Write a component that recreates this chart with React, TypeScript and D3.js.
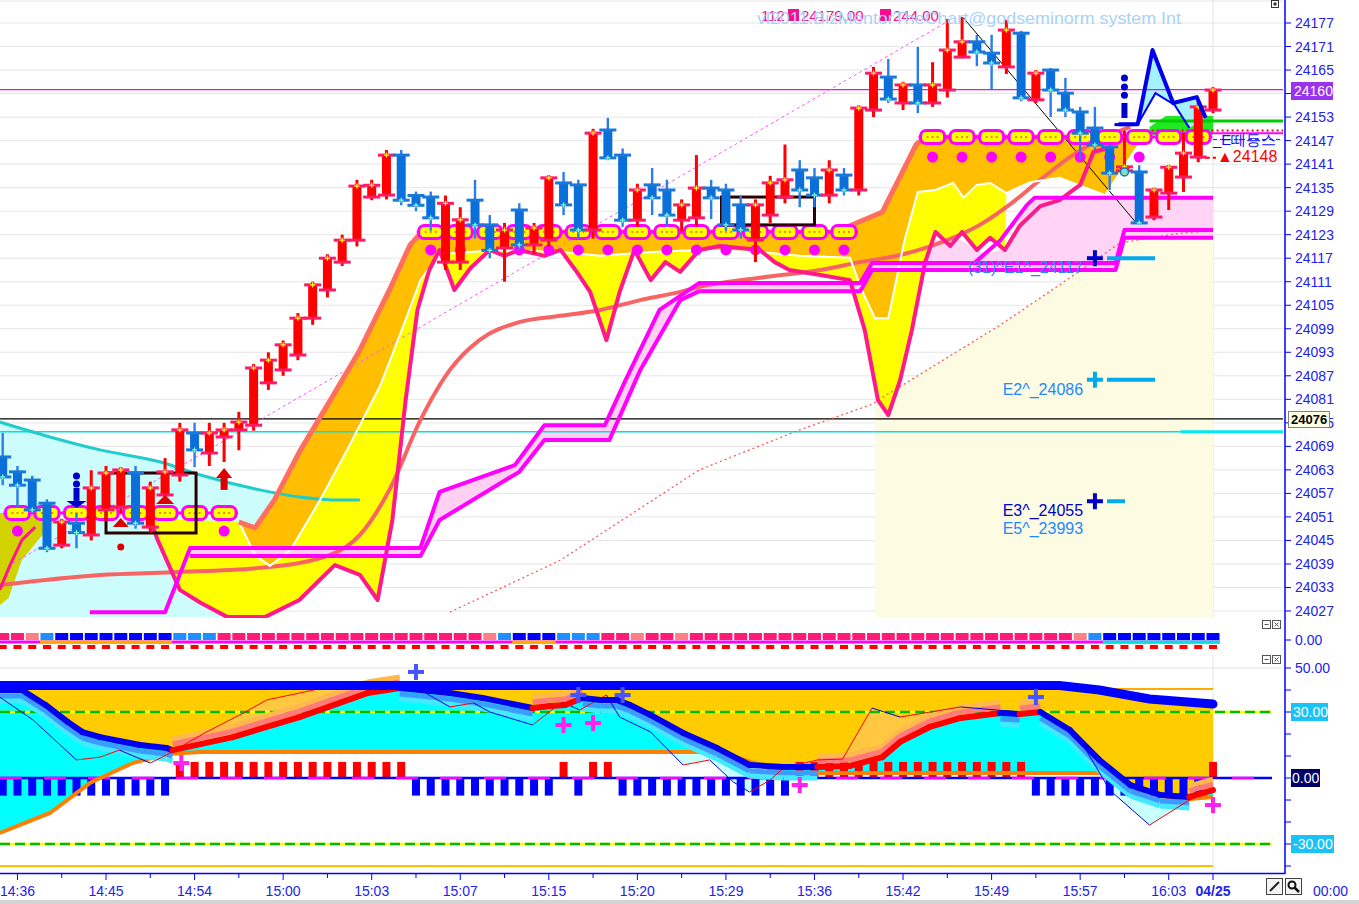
import React from "react";
import * as d3 from "d3";

type P = [number, number];

// ---------------- categories / ticks ----------------
const timeLabelIdx = [1, 7, 13, 19, 25, 31, 37, 43, 49, 55, 61, 67, 73, 79];
const timeLabels = ["14:36", "14:45", "14:54", "15:00", "15:03", "15:07", "15:15", "15:20", "15:29", "15:36", "15:42", "15:49", "15:57", "16:03"];
const dateLabel = "04/25";
const priceTicks = [24027, 24033, 24039, 24045, 24051, 24057, 24063, 24069, 24075, 24081, 24087, 24093, 24099, 24105, 24111, 24117, 24123, 24129, 24135, 24141, 24147, 24153, 24159, 24165, 24171, 24177];
const oscTicks = [50, 40, 30, 20, 10, 0, -10, -20, -30, -40];

// ---------------- candles ----------------
const opens = [24066.3, 24062.5, 24060.4, 24054.5, 24043.8, 24049.4, 24046.4, 24052.8, 24053.5, 24062.2, 24048.4, 24056.6, 24061.7, 24072.4, 24067.3, 24071.4, 24073.2, 24074.4, 24085.2, 24088.5, 24092.3, 24101.7, 24108.9, 24116.0, 24121.6, 24132.6, 24133.1, 24143.3, 24133.0, 24132.6, 24116.0, 24116.0, 24131.8, 24125.5, 24119.6, 24129.3, 24120.4, 24121.6, 24136.2, 24135.7, 24124.2, 24149.7, 24143.3, 24126.7, 24135.7, 24134.4, 24126.7, 24127.3, 24134.9, 24134.4, 24130.6, 24121.6, 24128.0, 24132.6, 24139.5, 24137.5, 24133.1, 24138.2, 24134.4, 24154.8, 24163.2, 24156.6, 24161.2, 24156.6, 24159.9, 24168.3, 24172.2, 24169.3, 24165.8, 24174.4, 24157.4, 24165.0, 24159.1, 24154.3, 24150.2, 24145.4, 24139.3, 24139.0, 24127.5, 24133.6, 24137.7, 24142.8, 24154.8];
const highs = [24072.4, 24064.0, 24061.5, 24055.5, 24050.5, 24052.0, 24062.9, 24064.0, 24063.7, 24064.0, 24060.0, 24066.0, 24075.0, 24075.0, 24075.0, 24075.0, 24077.8, 24090.0, 24093.0, 24096.0, 24103.0, 24111.0, 24118.0, 24123.0, 24137.0, 24137.0, 24144.6, 24144.6, 24134.0, 24134.0, 24133.0, 24130.0, 24137.0, 24128.0, 24126.0, 24131.0, 24126.0, 24138.2, 24139.0, 24137.0, 24150.0, 24152.8, 24145.0, 24136.0, 24140.0, 24137.0, 24132.0, 24143.3, 24137.0, 24136.0, 24133.0, 24132.0, 24138.0, 24146.0, 24142.0, 24140.0, 24142.0, 24140.0, 24156.0, 24165.8, 24167.8, 24162.0, 24170.9, 24167.0, 24178.0, 24178.5, 24174.0, 24174.0, 24177.8, 24175.0, 24165.0, 24165.5, 24163.0, 24155.6, 24155.6, 24146.0, 24149.5, 24140.7, 24135.0, 24140.8, 24149.0, 24157.0, 24160.7];
const lows = [24059.1, 24053.3, 24052.0, 24042.0, 24043.0, 24043.0, 24045.0, 24050.0, 24052.0, 24048.0, 24047.0, 24055.0, 24060.0, 24063.7, 24064.0, 24065.0, 24068.0, 24073.0, 24083.4, 24087.0, 24091.0, 24100.0, 24107.0, 24115.0, 24120.0, 24131.8, 24132.0, 24130.5, 24129.0, 24124.0, 24114.0, 24114.0, 24122.0, 24117.0, 24111.0, 24119.0, 24118.0, 24120.0, 24128.0, 24122.0, 24122.0, 24142.0, 24125.0, 24125.0, 24128.0, 24125.0, 24124.0, 24125.0, 24127.0, 24124.0, 24122.0, 24116.0, 24126.0, 24131.0, 24130.0, 24130.0, 24131.0, 24133.0, 24133.0, 24153.0, 24156.6, 24154.8, 24154.0, 24155.6, 24158.0, 24168.0, 24166.0, 24160.0, 24164.0, 24157.0, 24156.6, 24153.0, 24153.0, 24142.0, 24144.6, 24134.4, 24138.0, 24125.5, 24126.7, 24129.3, 24133.9, 24141.5, 24154.0];
const closes = [24061.2, 24059.1, 24052.8, 24043.0, 24049.7, 24047.0, 24058.4, 24062.2, 24063.0, 24049.4, 24058.4, 24062.5, 24073.2, 24068.1, 24072.4, 24073.2, 24075.2, 24089.0, 24091.0, 24094.9, 24101.7, 24110.2, 24117.0, 24121.6, 24135.4, 24135.6, 24143.3, 24131.8, 24130.5, 24127.3, 24131.0, 24126.8, 24125.5, 24119.0, 24124.2, 24120.4, 24124.7, 24137.5, 24130.6, 24124.2, 24148.9, 24142.6, 24126.7, 24134.4, 24132.4, 24128.0, 24130.6, 24134.9, 24132.4, 24125.5, 24124.2, 24130.6, 24136.2, 24137.0, 24134.4, 24133.1, 24139.5, 24134.4, 24155.3, 24164.2, 24157.6, 24161.2, 24156.6, 24161.2, 24170.1, 24172.2, 24169.6, 24166.8, 24175.2, 24157.9, 24164.2, 24159.9, 24154.8, 24148.9, 24145.9, 24138.7, 24140.3, 24126.0, 24134.4, 24140.2, 24143.8, 24155.6, 24159.9];

// ---------------- overlay series [index, price] ----------------
const maLine: P[] = [[-0.2, 24033.6], [6.6, 24036.2], [11.5, 24036.9], [17.4, 24038.0], [22.2, 24041.3], [24.2, 24046.4], [26.2, 24057.9], [28.3, 24075.7], [30.3, 24088.5], [32.3, 24096.1], [35.0, 24100.7], [37.8, 24102.3], [40.5, 24103.8], [43.2, 24106.3], [45.9, 24108.4], [47.2, 24109.7], [51.3, 24112.0], [55.4, 24114.0], [58.1, 24116.0], [60.8, 24117.8], [63.5, 24120.9], [66.2, 24125.5], [68.2, 24130.6], [70.3, 24137.0], [72.5, 24143.3], [74.3, 24147.2], [76.4, 24150.5]];
const cyanLine: P[] = [[-0.2, 24075.2], [3.2, 24071.4], [6.6, 24068.1], [10.7, 24065.0], [13.4, 24061.7], [17.4, 24057.9], [20.1, 24056.1], [22.9, 24055.3], [24.2, 24055.3]];
const spanTop: P[] = [[16.0, 24049.7], [17.1, 24048.2], [18.4, 24055.3], [20.1, 24067.6], [22.2, 24080.8], [24.2, 24093.6], [26.2, 24108.9], [27.6, 24120.4], [28.4, 24123.7], [56.4, 24123.7], [59.6, 24128.8], [61.9, 24146.1], [62.6, 24147.9], [77.3, 24147.9]];
const spanMid: P[] = [[16.0, 24049.7], [17.1, 24041.3], [18.1, 24038.5], [19.5, 24042.6], [21.5, 24055.3], [23.5, 24069.3], [25.6, 24084.7], [26.9, 24097.4], [28.3, 24111.4], [29.6, 24118.1], [33.7, 24119.1], [37.8, 24118.6], [40.5, 24117.6], [43.9, 24118.6], [47.2, 24119.1], [51.3, 24118.6], [54.0, 24117.6], [57.4, 24117.1], [58.2, 24108.9], [59.1, 24101.7], [60.0, 24101.7], [61.1, 24121.6], [62.0, 24133.9], [63.2, 24134.4], [64.4, 24136.2], [65.1, 24132.4], [66.0, 24135.7], [66.9, 24136.2], [68.0, 24133.6], [69.6, 24136.4], [71.6, 24137.5], [74.7, 24133.1], [77.3, 24147.9]];
const yellowStart: P = [10.0, 24050.7];
const spanBot: P[] = [[10.0, 24050.2], [10.5, 24045.1], [12.0, 24032.4], [13.4, 24029.1], [15.2, 24025.5], [17.8, 24025.5], [20.1, 24029.8], [22.5, 24038.7], [24.2, 24036.2], [25.4, 24029.8], [26.4, 24050.2], [27.3, 24080.8], [28.1, 24103.8], [28.9, 24114.0], [29.6, 24119.1], [30.6, 24108.9], [31.7, 24114.5], [33.0, 24119.1], [34.0, 24117.6], [35.0, 24119.1], [36.7, 24117.6], [37.8, 24119.1], [38.8, 24114.0], [39.8, 24108.4], [40.9, 24096.1], [41.8, 24108.4], [42.8, 24119.1], [43.9, 24111.4], [44.9, 24116.0], [45.9, 24113.5], [47.2, 24119.1], [48.6, 24120.1], [51.3, 24119.1], [52.3, 24116.0], [53.3, 24114.0], [55.4, 24112.7], [57.4, 24111.4], [58.4, 24098.7], [59.3, 24080.8], [60.0, 24077.0], [60.8, 24085.9], [61.6, 24098.7], [62.5, 24116.0], [63.2, 24123.7], [64.2, 24120.1], [65.0, 24123.7], [66.0, 24119.1], [66.9, 24122.2], [67.9, 24119.1], [68.9, 24125.2], [70.3, 24130.3], [71.6, 24131.8], [73.0, 24135.7], [73.9, 24144.1], [74.9, 24145.1]];
const magTop: P[] = [[5.9, 24026.7], [11.0, 24026.7], [12.7, 24043.1], [28.3, 24043.1], [29.6, 24057.4], [34.7, 24064.2], [36.7, 24074.4], [40.8, 24074.4], [42.2, 24085.9], [44.5, 24103.8], [47.2, 24110.7], [58.1, 24110.7], [58.9, 24115.8], [75.4, 24115.8], [76.0, 24124.2], [82.0, 24124.2]];
const magBot: P[] = [[12.7, 24041.0], [28.3, 24041.0], [29.6, 24050.2], [35.0, 24062.5], [36.7, 24070.6], [41.1, 24070.6], [43.2, 24088.5], [45.9, 24106.3], [47.2, 24108.6], [58.1, 24108.6], [58.9, 24114.0], [75.4, 24114.0], [76.0, 24122.2], [82.0, 24122.2]];
const magRight: P[] = [[65.9, 24116.0], [67.6, 24121.6], [69.4, 24130.6], [69.9, 24132.4], [82.0, 24132.4]];
const pinkRight: P[] = [[62.5, 24115.8], [63.2, 24121.6], [64.9, 24121.6], [66.6, 24117.8], [67.9, 24119.6], [69.4, 24130.6], [69.9, 24132.4], [82.0, 24132.4], [82.0, 24124.2], [76.0, 24124.2], [75.4, 24115.8]];
const olivePoly: P[] = [[-0.2, 24052.0], [3.9, 24052.0], [1.3, 24040.0], [0.4, 24030.3], [-0.2, 24028.5]];
const leftPink: P[] = [[-0.2, 24032.4], [0.5, 24038.7], [1.3, 24045.1], [2.2, 24048.4]];
const cyanStrip: P[] = [[17.4, 24057.9], [20.1, 24056.1], [22.9, 24055.3], [22.9, 24051.5], [20.1, 24050.5], [17.4, 24048.2]];
const trendDots: P[] = [[30.3, 24026.7], [37.8, 24040.0], [47.2, 24063.0], [54.0, 24073.2], [58.8, 24079.6], [63.5, 24090.5], [67.6, 24100.0], [71.6, 24110.2], [75.7, 24120.9], [79.8, 24123.4], [82.0, 24124.0]];
const diagDash: P[] = [[0.7, 24039.2], [64.2, 24177.8]];
const diagBlack: P[] = [[65.1, 24178.3], [76.8, 24126.0]];
const spikeOuter: P[] = [[75.6, 24151.2], [76.9, 24151.2], [77.9, 24170.1], [79.3, 24156.6], [80.9, 24158.1], [81.5, 24152.8]];
const spikeInner: P[] = [[76.9, 24151.2], [78.1, 24159.1], [79.4, 24156.1], [80.4, 24150.2]];
const greenBox: P[] = [[77.7, 24150.5], [78.8, 24153.3], [82.0, 24153.3], [82.0, 24148.4], [77.7, 24148.4]];
const chains = [
  { level: 24052.0, dot: 24047.4, idx: [1, 3, 5, 7, 9, 11, 13, 15], dots: [1, 15] },
  { level: 24123.7, dot: 24119.1, idx: [29, 31, 33, 35, 37, 39, 41, 43, 45, 47, 49, 51, 53, 55, 57], dots: [29, 31, 35, 37, 39, 41, 43, 45, 47, 49, 51, 53, 55, 57] },
  { level: 24147.9, dot: 24142.8, idx: [63, 65, 67, 69, 71, 73, 75, 77, 79, 81], dots: [63, 65, 67, 69, 71, 73, 75, 77] },
];
const boxes = [
  { i0: 7.0, i1: 13.1, p0: 24062.2, p1: 24046.9 },
  { i0: 48.7, i1: 55.0, p0: 24132.6, p1: 24125.5 },
];
const eLevels = [
  { text: "(31)^E1^_24117", level: 24117, color: "#1e88ff", plus: "#0000cc", dash: 1155 },
  { text: "E2^_24086", level: 24086, color: "#1e88ff", plus: "#00aaee", dash: 1155 },
  { text: "E3^_24055", level: 24055, color: "#0000cc", plus: "#0000cc", dash: 1125 },
];
const e5Text = "E5^_23993";
const hLines = { magenta: 24160, black: 24076, cyan: 24072.7, green: 24152.0 };

// ---------------- strip panel ----------------
const stripCodes = "PPSMBBBBBBBBMMMPPPPPPPPPPPPPPPPPPSMBBBMMMPPSPPSPPPPPPPPPPPPPPPPPPPPPPPPPPSMBBBBBBBB".split("");
const stripOrange = [[3, 11], [35, 37]];
const stripCyan = [[75, 82]];

// ---------------- oscillator ----------------
const hist = [
  -8, -8, -8, -8, -8, -8, -8, -8, -8, -8, -8, -8,
  7.3, 7.3, 7.3, 7.3, 7.3, 7.3, 7.3, 7.3, 7.3, 7.3, 7.3, 7.3, 7.3, 7.3, 7.3, 7.3,
  -8, -8, -8, -8, -8, -8, -8, -8, -8, -8,
  7.3, -8, 7.3, 7.3,
  -8, -8, -8, -8, -8, -8, -8, -8, -8, -8, -8, -8,
  7.3, 7.3, 7.3, 7.3, 7.3, 7.3, 7.3, 7.3, 7.3, 7.3, 7.3, 7.3, 7.3, 7.3, 7.3, 7.3,
  -8, -8, -8, -8, -8, -8, -8, -8, -8, -8, -8, -8,
  7.3,
];
const oscBand: P[] = [[-0.2, 42], [71.6, 42], [74.3, 40], [77.7, 35.9], [82, 33.6]];
const oscFast: P[] = [[-0.2, 40.0], [1.3, 40.0], [2.9, 33.2], [4.4, 25.5], [5.4, 20.9], [6.6, 18.6], [7.9, 16.8], [9.3, 15.0], [11.1, 13.6], [11.5, 12.7], [15.6, 18.6], [20.1, 27.7], [24.7, 38.6], [26.9, 40.9], [28.3, 40.0], [30.3, 38.6], [32.5, 36.4], [35.9, 31.8], [37.1, 32.7], [38.1, 33.2], [39.3, 36.4], [40.5, 35.5], [41.6, 35.5], [42.5, 33.2], [43.9, 28.6], [46.1, 20.5], [48.4, 13.6], [50.6, 5.9], [52.9, 5.0], [55.2, 5.0], [57.4, 5.5], [59.6, 9.5], [60.8, 16.4], [62.8, 23.2], [64.9, 27.3], [67.6, 29.5], [68.9, 29.1], [70.3, 30.0], [72.3, 21.8], [74.3, 8.2], [76.4, -3.2], [78.4, -7.7], [80.4, -8.6], [82, -5.5]];
const oscSlow: P[] = [[-0.2, -25.0], [3.2, -15.9], [5.9, -2.3], [8.8, 6.8], [11.1, 10.9], [13.4, 11.8], [48.6, 11.8], [51.3, 5.9], [52.9, 2.3], [74.3, 2.3], [77.1, -5.5], [79.7, -10.0], [82, -8.6]];
const oscMom: P[] = [[-0.2, 36.8], [2.05, 26.4], [5.0, 8.2], [6.6, 9.5], [7.9, 12.7], [10.0, 6.8], [11.1, 10.5], [13.8, 20.9], [16.3, 29.5], [17.9, 35.5], [20.1, 38.6], [23.5, 43.6], [26.9, 43.2], [28.3, 40.0], [30.3, 32.3], [31.9, 34.1], [33.0, 30.0], [35.9, 24.1], [37.9, 34.5], [39.1, 30.9], [40.9, 37.7], [41.8, 27.7], [43.9, 20.9], [46.1, 5.9], [47.9, 8.2], [49.5, -1.8], [50.6, -6.4], [52.0, -0.9], [52.9, 4.5], [55.2, 8.2], [56.9, 8.6], [58.9, 31.8], [60.8, 27.7], [64.9, 32.3], [68.9, 30.0], [70.9, 28.2], [73.0, 17.3], [75.0, -5.5], [77.7, -21.4], [80.4, -10.0], [82, -5.5]];
const oscTopLine: P[] = [[70.3, 40.5], [82, 40.5]];
const oscBottomLine = -40;
const oscPlusBlue: P[] = [[28.0, 48.2], [39.0, 37.7], [42.0, 37.7], [70.0, 36.8]];
const oscPlusMag: P[] = [[12.1, 6.8], [38.0, 24.1], [40.0, 25.0], [54.0, -3.2], [82, -12.3]];

const FONT = "'Liberation Sans', Arial, sans-serif";
const AXIS_BLUE = "#2222ee";

function interp(pts: P[], t: number): number {
  if (t <= pts[0][0]) return pts[0][1];
  for (let k = 1; k < pts.length; k++) {
    if (t <= pts[k][0]) {
      const [x0, y0] = pts[k - 1];
      const [x1, y1] = pts[k];
      return y0 + ((y1 - y0) * (t - x0)) / (x1 - x0 || 1);
    }
  }
  return pts[pts.length - 1][1];
}

function Plus({ cx, cy, s, t, color }: { cx: number; cy: number; s: number; t: number; color: string }) {
  return (
    <g fill={color}>
      <rect x={cx - s} y={cy - t / 2} width={2 * s} height={t} />
      <rect x={cx - t / 2} y={cy - s} width={t} height={2 * s} />
    </g>
  );
}

export default function App() {
  const x = d3.scaleLinear().domain([0, 82]).range([2.7, 1213]);
  const y = d3.scaleLinear().domain([24027, 24177]).range([611, 23]);
  const yo = d3.scaleLinear().domain([-30, 50]).range([844, 668]);
  const line = d3.line<P>().x((d) => x(d[0])).y((d) => y(d[1]));
  const smooth = d3.line<P>().x((d) => x(d[0])).y((d) => y(d[1])).curve(d3.curveMonotoneX);
  const lineO = d3.line<P>().x((d) => x(d[0])).y((d) => yo(d[1]));
  const poly = (pts: P[]) => (line(pts) || "") + "Z";
  const RIGHT = 1283;
  const AXX = 1285;

  const orangePoly = [...spanTop, ...spanMid.slice().reverse()];
  const yellowPoly: P[] = [yellowStart, ...spanMid.filter((p) => p[0] <= 68.0), ...spanBot.filter((p) => p[0] <= 67.9).reverse()];
  const pinkBand = [...magTop.filter((p) => p[0] >= 12.7), ...magBot.slice().reverse()];
  const cyanFill: P[] = [...cyanLine.filter((p) => p[0] <= 17.4), [17.4, 24025.5], [-0.2, 24025.5]];
  const creamStart = 59.1;
  const creamPoly: P[] = [[creamStart, 24025.5], [creamStart, interp(trendDots, creamStart)], ...trendDots.filter((p) => p[0] > creamStart), [82, 24025.5]];
  const spikePoly = [...spikeOuter, ...spikeInner.slice().reverse()];

  const ts = d3.range(-0.2, 82.001, 0.1);
  const area = (f0: (t: number) => number, f1: (t: number) => number) =>
    d3.area<number>().x((t) => x(t)).y0((t) => yo(f0(t))).y1((t) => yo(f1(t)))(ts) || "";
  const fastF = (t: number) => interp(oscFast, t);
  const orangeArea = area((t) => interp(oscBand, t), fastF);
  const lightOrangeArea = area(fastF, (t) => Math.max(interp(oscMom, t), fastF(t)));
  const lightCyanArea = area(fastF, (t) => Math.min(interp(oscMom, t), fastF(t)));
  const cyanArea = area(fastF, (t) => Math.min(interp(oscSlow, t), fastF(t)));

  const segs = (pts: P[]) => {
    const out: { x1: number; y1: number; x2: number; y2: number; up: boolean }[] = [];
    for (let k = 1; k < pts.length; k++) {
      out.push({ x1: x(pts[k - 1][0]), y1: yo(pts[k - 1][1]), x2: x(pts[k][0]), y2: yo(pts[k][1]), up: pts[k][1] > pts[k - 1][1] });
    }
    return out;
  };
  const fastSegs = segs(oscFast);
  const momSegs = segs(oscMom);

  const stripColor: Record<string, string> = { P: "#ff1a75", S: "#ff8080", M: "#1e8fff", B: "#0000ff" };
  const idx = d3.range(0, 83);

  return (
    <svg width={1359} height={904} style={{ position: "absolute", left: 0, top: 0, background: "#ffffff" }} fontFamily={FONT}>
      <defs>
        <clipPath id="mainClip"><rect x={0} y={0} width={RIGHT} height={618} /></clipPath>
        <clipPath id="oscClip"><rect x={0} y={655} width={RIGHT} height={215} /></clipPath>
        <clipPath id="rightTxt"><rect x={1150} y={120} width={133} height={50} /></clipPath>
      </defs>
      <rect x={0} y={0} width={1359} height={904} fill="#ffffff" />

      {/* ================= MAIN PANEL ================= */}
      <g clipPath="url(#mainClip)">
        {priceTicks.map((p) => (
          <line key={"g" + p} x1={0} x2={RIGHT} y1={y(p)} y2={y(p)} stroke="#e6e6e6" strokeWidth={1} />
        ))}
        <line x1={0} x2={RIGHT} y1={1} y2={1} stroke="#e6e6e6" />
        <line x1={x(82)} x2={x(82)} y1={0} y2={618} stroke="#e4e4e4" />
        <path d={poly(creamPoly)} fill="#fdfbe2" />
        <path d={poly(cyanFill)} fill="#ccfcfc" />
        <path d={poly(cyanStrip)} fill="#ccfcfc" />
        <path d={poly(olivePoly)} fill="#d2d200" />
        <path d={poly(yellowPoly)} fill="#ffff00" />
        <path d={poly(orangePoly)} fill="#ffbf00" />
        <path d={poly(pinkBand)} fill="#ffd0f2" />
        <path d={poly(pinkRight)} fill="#ffd4f4" />
        <path d={poly(greenBox)} fill="#22e822" />
        <path d={poly(spikePoly)} fill="#a4f2ff" />

        {/* horizontal reference lines */}
        <line x1={0} x2={RIGHT} y1={y(hLines.magenta)} y2={y(hLines.magenta)} stroke="#ff00ff" strokeWidth={1.2} />
        <line x1={0} x2={RIGHT} y1={y(hLines.black)} y2={y(hLines.black)} stroke="#000000" strokeWidth={1.2} />
        <line x1={0} x2={x(79.8)} y1={y(hLines.cyan)} y2={y(hLines.cyan)} stroke="#00e0e0" strokeWidth={1.5} />
        <line x1={x(79.8)} x2={RIGHT} y1={y(hLines.cyan)} y2={y(hLines.cyan)} stroke="#00e8f0" strokeWidth={3} />
        <line x1={x(77.7)} x2={RIGHT} y1={y(hLines.green)} y2={y(hLines.green)} stroke="#00cc00" strokeWidth={3} />

        {/* diagonals */}
        <path d={line(trendDots) || ""} fill="none" stroke="#ff5050" strokeWidth={1.2} strokeDasharray="2,3" />
        <path d={line(diagDash) || ""} fill="none" stroke="#ff55ff" strokeWidth={1} strokeDasharray="3,3" />
        <path d={line(diagBlack) || ""} fill="none" stroke="#000000" strokeWidth={1} />

        {/* curves */}
        <path d={smooth(cyanLine) || ""} fill="none" stroke="#22cccc" strokeWidth={3} />
        <path d={smooth(maLine) || ""} fill="none" stroke="#f86464" strokeWidth={4} />
        <path d={line(spanMid) || ""} fill="none" stroke="#ffffff" strokeWidth={2} />
        <path d={line(leftPink) || ""} fill="none" stroke="#ff1493" strokeWidth={3} />
        <path d={line(spanBot) || ""} fill="none" stroke="#ff1a8c" strokeWidth={4} strokeLinejoin="round" />
        <path d={line(spanTop) || ""} fill="none" stroke="#ff6e5e" strokeWidth={5} strokeLinejoin="round" />
        <path d={line(magBot) || ""} fill="none" stroke="#ff00ff" strokeWidth={4} strokeLinejoin="round" />
        <path d={line(magTop) || ""} fill="none" stroke="#ff00ff" strokeWidth={4} strokeLinejoin="round" />
        <path d={line(magRight) || ""} fill="none" stroke="#ff00ff" strokeWidth={4} strokeLinejoin="round" />

        {/* right-side small lines */}
        <line x1={x(77.5)} x2={RIGHT} y1={y(24148.9)} y2={y(24148.9)} stroke="#ff00ff" strokeWidth={2} />
        <line x1={x(77.5)} x2={RIGHT} y1={y(24149.6)} y2={y(24149.6)} stroke="#ff0000" strokeWidth={2} strokeDasharray="2,3" />
        <line x1={x(82)} x2={RIGHT} y1={y(24147.3)} y2={y(24147.3)} stroke="#2020ff" strokeWidth={1} strokeDasharray="4,3" />
        <line x1={x(80.9)} x2={x(82.2)} y1={y(24142.6)} y2={y(24142.6)} stroke="#ff0000" strokeWidth={2} strokeDasharray="5,3" />

        {/* E levels */}
        {eLevels.map((e) => (
          <g key={e.text}>
            <text x={x(73.2)} y={y(e.level) + 15} textAnchor="end" fontSize={16} fill={e.color}>{e.text}</text>
            <Plus cx={x(74)} cy={y(e.level)} s={8} t={4} color={e.plus} />
            <line x1={1107} x2={e.dash} y1={y(e.level)} y2={y(e.level)} stroke="#00aaee" strokeWidth={4} />
          </g>
        ))}
        <text x={x(73.2)} y={y(24055) + 33} textAnchor="end" fontSize={16} fill="#1e88ff">{e5Text}</text>

        {/* chains */}
        {chains.map((c, ci) => (
          <g key={"c" + ci}>
            <line x1={x(c.idx[0]) - 14} x2={x(c.idx[c.idx.length - 1]) + 14} y1={y(c.level)} y2={y(c.level)} stroke="#ff00ff" strokeWidth={3} />
            {c.dots.map((i) => (
              <circle key={"d" + i} cx={x(i)} cy={y(c.dot)} r={5.5} fill="#ff00ff" />
            ))}
            {c.idx.map((i) => (
              <g key={"o" + i}>
                <rect x={x(i) - 12} y={y(c.level) - 6.5} width={24} height={13} rx={5.5} fill="#ffff00" stroke="#ff00ff" strokeWidth={3} />
                {[-5, 0, 5].map((dx) => (
                  <rect key={dx} x={x(i) + dx - 1} y={y(c.level) - 1} width={2} height={2} fill="#e09000" />
                ))}
              </g>
            ))}
          </g>
        ))}

        {/* boxes */}
        {boxes.map((b, k) => (
          <rect key={"b" + k} x={x(b.i0)} y={y(b.p0)} width={x(b.i1) - x(b.i0)} height={y(b.p1) - y(b.p0)} fill="none" stroke="#2a0000" strokeWidth={3} />
        ))}

        {/* candles */}
        {idx.map((i) => {
          const o = opens[i], h = highs[i], l = lows[i], c = closes[i];
          const up = c >= o;
          const col = up ? "#ff0000" : "#0a6fd8";
          const cap = up ? "#ff1a66" : "#1a78d8";
          const cx = x(i);
          const top = y(Math.max(o, c));
          const bot = y(Math.min(o, c));
          return (
            <g key={"k" + i}>
              <rect x={cx - (up ? 1.5 : 1.2)} y={y(h)} width={up ? 3 : 2.4} height={y(l) - y(h)} fill={up ? col : "#2b7de9"} />
              <rect x={cx - 4.5} y={top} width={9} height={Math.max(2, bot - top)} fill={col} />
              <rect x={cx - 8.5} y={y(o) - 1.5} width={17} height={3} fill={cap} />
              <rect x={cx - 8.5} y={y(c) - 1.5} width={17} height={3} fill={cap} />
              <Plus cx={cx} cy={y(c)} s={2.5} t={1.2} color={up ? "#ffff00" : "#7fffd4"} />
            </g>
          );
        })}

        {/* markers */}
        <g fill="#0000cc">
          <circle cx={x(5)} cy={y(24053.3) - 32} r={3.5} />
          <circle cx={x(5)} cy={y(24053.3) - 24} r={3.5} />
          <rect x={x(5) - 3} y={y(24053.3) - 20} width={6} height={13} />
          <path d={`M${x(5) - 10},${y(24053.3) - 7} L${x(5) + 10},${y(24053.3) - 7} L${x(5)},${y(24053.3)} Z`} />
        </g>
        <g fill="#dd0000">
          <path d={`M${x(8)},${y(24050.7)} L${x(8) + 8},${y(24050.7) + 9} L${x(8) - 8},${y(24050.7) + 9} Z`} />
          <path d={`M${x(11)},${y(24056.6)} L${x(11) + 9},${y(24056.6) + 9} L${x(11) - 9},${y(24056.6) + 9} Z`} />
          <path d={`M${x(15)},${y(24063.5)} L${x(15) + 8},${y(24063.5) + 10} L${x(15) - 8},${y(24063.5) + 10} Z`} />
          <rect x={x(15) - 3.5} y={y(24063.5) + 10} width={7} height={12} />
          <circle cx={x(8)} cy={y(24043.3)} r={3.5} />
        </g>
        <g fill="#0000cc">
          {[24163.0, 24160.7, 24158.6].map((p) => (
            <circle key={p} cx={x(76)} cy={y(p)} r={3.5} />
          ))}
          <rect x={x(76) - 3} y={y(24156.6)} width={6} height={15} />
          <rect x={x(76) - 10} y={y(24151.2) - 1} width={20} height={3} />
        </g>
        <circle cx={x(76)} cy={y(24139.0)} r={4} fill="#80e0c0" stroke="#1a70d0" strokeWidth={1.5} />

        {/* right spike outlines */}
        <path d={line(spikeOuter) || ""} fill="none" stroke="#0000ee" strokeWidth={4} strokeLinejoin="round" />
        <path d={line(spikeInner) || ""} fill="none" stroke="#0000ee" strokeWidth={2} />

        {/* header */}
        <g fill="#ff0a8c" fontSize={15}>
          <text x={761} y={21}>112</text>
          <rect x={788} y={9} width={11} height={12} />
          <text x={801} y={21}>24179.00</text>
          <rect x={880} y={9} width={11} height={12} />
          <text x={893} y={21}>244.00</text>
        </g>
        <text x={757} y={24} fontSize={17} fill="#a8d2fa" textLength={424} lengthAdjust="spacingAndGlyphs">vl2011.BizMentorTheChart@godseminorm system Int</text>

        <g clipPath="url(#rightTxt)">
          <text x={1213} y={145} fontSize={15} fill="#1010ff">_E떼등스</text>
          <text x={1217} y={162} fontSize={16} fill="#ff0000">▲24148</text>
        </g>
      </g>

      {/* top-right icon */}
      <rect x={1271.5} y={0.5} width={7} height={7} fill="#fff" stroke="#333" />
      <rect x={1273.5} y={2.5} width={3} height={3} fill="#333" />

      {/* ================= STRIP PANEL ================= */}
      {idx.map((i) => (
        <rect key={"s" + i} x={x(i) - 6.5} y={633} width={13} height={7} fill={stripColor[stripCodes[i]]} />
      ))}
      <line x1={0} x2={x(82) + 7} y1={642} y2={642} stroke="#ff00ff" strokeWidth={3} />
      {stripOrange.map(([a, b]) => (
        <line key={"so" + a} x1={x(a) - 7} x2={x(b) + 7} y1={642} y2={642} stroke="#ffaa00" strokeWidth={3} />
      ))}
      {stripCyan.map(([a, b]) => (
        <line key={"sc" + a} x1={x(a) - 7} x2={x(b) + 7} y1={642} y2={642} stroke="#00e0e0" strokeWidth={3} />
      ))}
      {idx.map((i) => (
        <rect key={"r" + i} x={x(i) - 4} y={645} width={8} height={4} fill="#ff0000" />
      ))}

      {/* panel buttons */}
      {[620, 655].map((yy) => (
        <g key={"btn" + yy} stroke="#555" fill="#fff" strokeWidth={1}>
          <rect x={1262.5} y={yy + 0.5} width={8} height={8} />
          <line x1={1264.5} x2={1268.5} y1={yy + 4.5} y2={yy + 4.5} />
          <rect x={1272.5} y={yy + 0.5} width={8} height={8} />
          <line x1={1274.5} x2={1278.5} y1={yy + 2.5} y2={yy + 6.5} />
          <line x1={1278.5} x2={1274.5} y1={yy + 2.5} y2={yy + 6.5} />
        </g>
      ))}

      {/* ================= OSCILLATOR ================= */}
      <line x1={0} x2={RIGHT} y1={yo(50)} y2={yo(50)} stroke="#e6e6e6" />
      <line x1={x(82)} x2={x(82)} y1={655} y2={872} stroke="#e4e4e4" />
      <g clipPath="url(#oscClip)">
        <path d={orangeArea} fill="#ffcc00" />
        <path d={lightOrangeArea} fill="#ffc840" />
        <path d={lightCyanArea} fill="#c8ffff" />
        <path d={cyanArea} fill="#00ffff" />

        {idx.map((i) => {
          const v = hist[i];
          const top = yo(Math.max(v, 0));
          const bot = yo(Math.min(v, 0));
          return <rect key={"h" + i} x={x(i) - 4} y={top} width={8} height={bot - top} fill={v > 0 ? "#ff0000" : "#0000ff"} />;
        })}
        <line x1={0} x2={1272} y1={yo(0)} y2={yo(0)} stroke="#0000ff" strokeWidth={2.5} />
        <line x1={0} x2={1272} y1={yo(0)} y2={yo(0)} stroke="#ff00ff" strokeWidth={2.5} strokeDasharray="22,22" />

        {[30, -30].map((v) => (
          <g key={"dl" + v}>
            <line x1={0} x2={1272} y1={yo(v)} y2={yo(v)} stroke="#ffff00" strokeWidth={2.5} />
            <line x1={0} x2={1272} y1={yo(v)} y2={yo(v)} stroke="#00bb00" strokeWidth={2.5} strokeDasharray="10,5" />
          </g>
        ))}
        <line x1={0} x2={x(82)} y1={yo(oscBottomLine)} y2={yo(oscBottomLine)} stroke="#ffc000" strokeWidth={2} />
        <path d={lineO(oscTopLine) || ""} fill="none" stroke="#ffaa00" strokeWidth={2} />

        <path d={lineO(oscSlow) || ""} fill="none" stroke="#ff8000" strokeWidth={4} />

        {fastSegs.map((s, k) => (
          <g key={"fb" + k}>
            <line x1={s.x1} y1={s.y1 + (s.up ? -11 : 11)} x2={s.x2} y2={s.y2 + (s.up ? -11 : 11)} stroke={s.up ? "#ffb84d" : "#44e8ff"} strokeWidth={5} />
            <line x1={s.x1} y1={s.y1 + (s.up ? -6 : 6)} x2={s.x2} y2={s.y2 + (s.up ? -6 : 6)} stroke={s.up ? "#ff7a7a" : "#3d9bff"} strokeWidth={5} />
          </g>
        ))}
        {momSegs.map((s, k) => (
          <line key={"m" + k} x1={s.x1} y1={s.y1} x2={s.x2} y2={s.y2} stroke={s.up ? "#ff0000" : "#0000dd"} strokeWidth={1} />
        ))}
        {fastSegs.map((s, k) => (
          <line key={"f" + k} x1={s.x1} y1={s.y1} x2={s.x2} y2={s.y2} stroke={s.up ? "#ff0000" : "#0000ee"} strokeWidth={6} strokeLinecap="round" />
        ))}
        <path d={lineO(oscBand) || ""} fill="none" stroke="#0000ff" strokeWidth={9} strokeLinecap="round" />

        {oscPlusBlue.map((p, k) => (
          <Plus key={"pb" + k} cx={x(p[0])} cy={yo(p[1])} s={8} t={4} color="#4455ff" />
        ))}
        {oscPlusMag.map((p, k) => (
          <Plus key={"pm" + k} cx={x(p[0])} cy={yo(p[1])} s={8} t={4} color="#ff22ee" />
        ))}
      </g>

      {/* ================= AXES ================= */}
      <line x1={AXX} x2={AXX} y1={0} y2={874} stroke="#0000ff" strokeWidth={1.5} />
      {priceTicks.map((p) => (
        <g key={"t" + p}>
          <line x1={AXX} x2={AXX + 6} y1={y(p)} y2={y(p)} stroke="#0000ff" />
          {p !== 24159 && p !== 24075 && (
            <text x={1295} y={y(p) + 5} fontSize={14} fill={AXIS_BLUE}>{p}</text>
          )}
        </g>
      ))}
      <rect x={1291} y={82} width={42} height={18} fill="#9933ee" />
      <text x={1294} y={96} fontSize={14} fill="#ffffff">24160</text>
      <text x={1295} y={y(24075) + 5} fontSize={14} fill={AXIS_BLUE}>24075</text>
      <rect x={1288.5} y={411.5} width={41} height={16} fill="#ffffe6" stroke="#808080" />
      <text x={1291} y={424} fontSize={13} fontWeight="bold" fill="#000">24076</text>

      <line x1={AXX} x2={AXX + 6} y1={640} y2={640} stroke="#0000ff" />
      <text x={1295} y={645} fontSize={14} fill={AXIS_BLUE}>0.00</text>

      {oscTicks.map((v) => (
        <line key={"ot" + v} x1={AXX} x2={AXX + 6} y1={yo(v)} y2={yo(v)} stroke="#0000ff" />
      ))}
      <text x={1295} y={yo(50) + 5} fontSize={14} fill={AXIS_BLUE}>50.00</text>
      <rect x={1291} y={yo(30) - 9} width={37} height={18} fill="#19c3f5" />
      <text x={1293} y={yo(30) + 5} fontSize={14} fill="#ffffff">30.00</text>
      <rect x={1291} y={yo(0) - 9} width={29} height={18} fill="#000066" />
      <text x={1292} y={yo(0) + 5} fontSize={14} fill="#ffffff">0.00</text>
      <rect x={1291} y={yo(-30) - 9} width={43} height={18} fill="#19c3f5" />
      <text x={1293} y={yo(-30) + 5} fontSize={14} fill="#ffffff">-30.00</text>

      <line x1={0} x2={AXX} y1={873.5} y2={873.5} stroke="#0000ff" strokeWidth={1.5} />
      {d3.range(1, 83, 3).map((i) => {
        const major = (i - 1) % 6 === 0 || i === 82;
        return <line key={"xt" + i} x1={x(i)} x2={x(i)} y1={874} y2={874 + (major ? 6 : 4)} stroke="#0000ff" />;
      })}
      {timeLabelIdx.map((i, k) => (
        <text key={"tl" + i} x={x(i)} y={896} fontSize={14} textAnchor="middle" fill={AXIS_BLUE}>{timeLabels[k]}</text>
      ))}
      <text x={x(82)} y={896} fontSize={14} fontWeight="bold" textAnchor="middle" fill={AXIS_BLUE}>{dateLabel}</text>
      <text x={1313} y={896} fontSize={14} fill={AXIS_BLUE}>00:00</text>

      <g stroke="#444" fill="#f4f4f4">
        <rect x={1266.5} y={878.5} width={16} height={16} />
        <rect x={1285.5} y={878.5} width={16} height={16} />
      </g>
      <line x1={1270} y1={891} x2={1279} y2={882} stroke="#222" strokeWidth={2} />
      <circle cx={1292} cy={885} r={3.5} fill="none" stroke="#111" strokeWidth={2} />
      <line x1={1294.5} y1={887.5} x2={1299} y2={892} stroke="#111" strokeWidth={2.5} />
      <rect x={0} y={900} width={1359} height={4} fill="#d4d4d4" />
    </svg>
  );
}
